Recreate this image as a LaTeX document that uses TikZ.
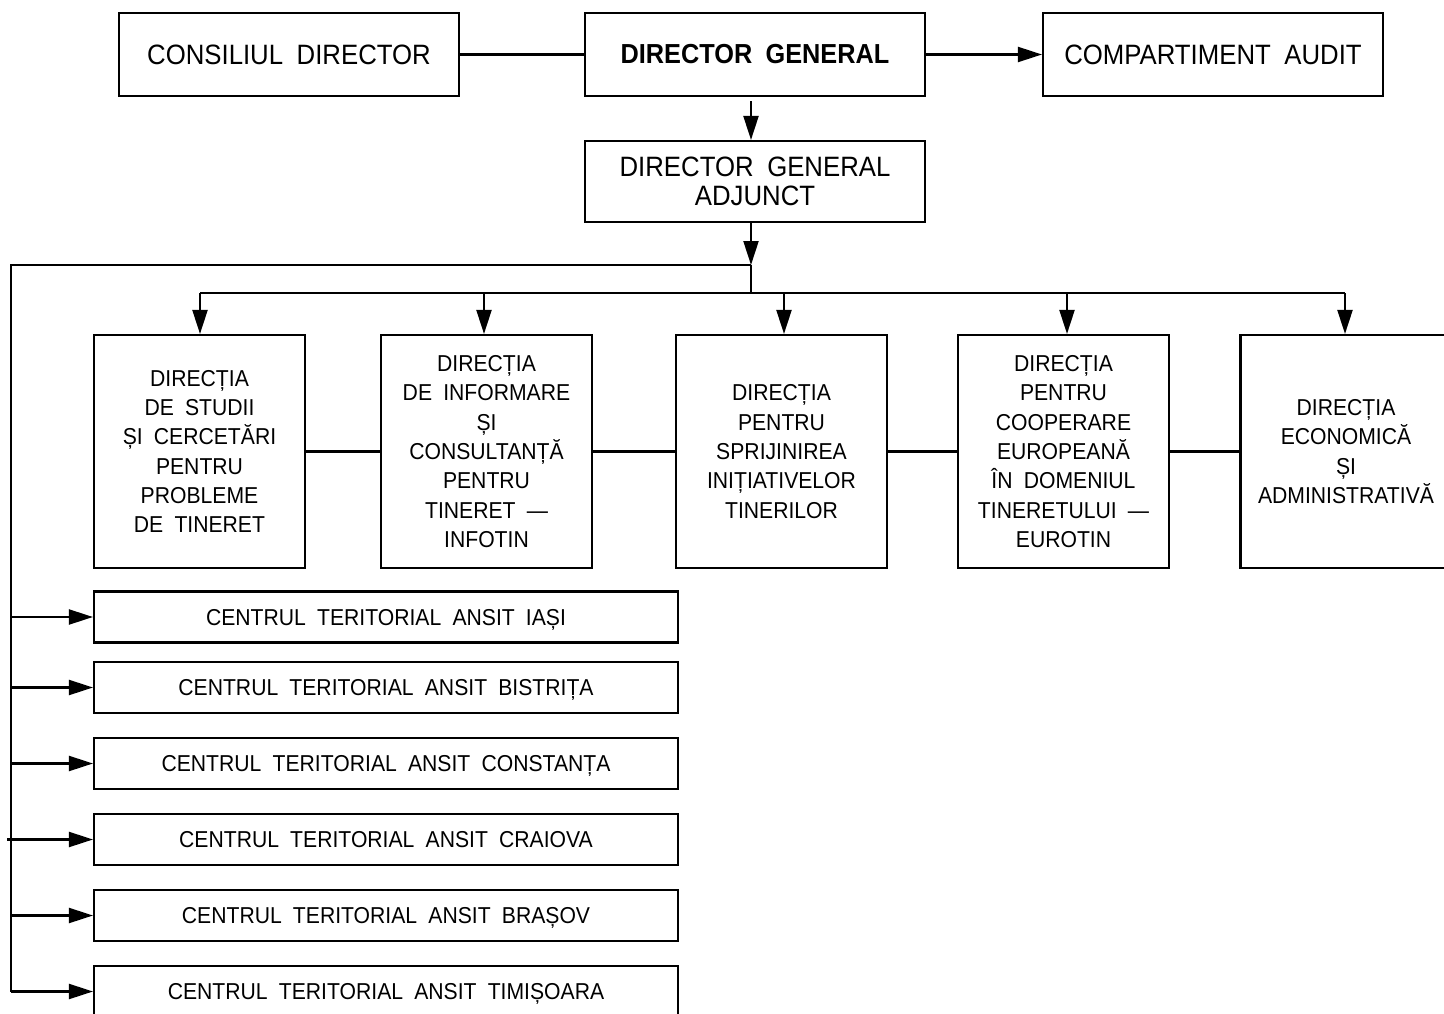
\documentclass[tikz,border=0pt]{standalone}
\usepackage{fontspec}
\setmainfont[WordSpace=1.9,FakeStretch=0.92]{Liberation Sans}
\usetikzlibrary{arrows.meta}
\begin{document}
\begin{tikzpicture}[x=1pt,y=-1pt,
  box/.style={draw,line width=2.1pt,inner sep=0pt,align=center,anchor=center},
  topbox/.style={box,minimum width=340pt,minimum height=83pt,font=\fontsize{28}{29}\selectfont},
  dirbox/.style={box,minimum width=211pt,minimum height=233pt,font=\fontsize{23}{29.3}\selectfont},
  ctbox/.style={box,minimum width=584pt,minimum height=51pt,text depth=0pt,font=\fontsize{23}{25}\selectfont},
  conn/.style={line width=2.1pt},
  arr/.style={conn,-{Triangle[length=24pt,width=15pt]}}]
\useasboundingbox (0,0) rectangle (1444,1014);
% top row
\node[topbox] (cd) at (289,54.5) {CONSILIUL DIRECTOR};
\node[topbox,font=\fontsize{27.5}{29}\selectfont\bfseries] (dg) at (755,54.5) {DIRECTOR GENERAL};
\node[topbox] (ca) at (1213,54.5) {COMPARTIMENT AUDIT};
\node[topbox,minimum height=81pt] (dga) at (755,181.5) {DIRECTOR GENERAL\\ADJUNCT};
\draw[conn] (cd.east) -- (dg.west);
\draw[arr] (dg.east) -- (ca.west);
\draw[arr,shorten <=4pt] (dg.south -| 751,0) -- (dga.north -| 751,0);
% directorates
\node[dirbox] (d1) at (199.5,451.5) {DIRECȚIA\\DE STUDII\\ȘI CERCETĂRI\\PENTRU\\PROBLEME\\DE TINERET};
\node[dirbox] (d2) at (486.5,451.5) {DIRECȚIA\\DE INFORMARE\\ȘI\\CONSULTANȚĂ\\PENTRU\\TINERET —\\INFOTIN};
\node[dirbox] (d3) at (781.5,451.5) {DIRECȚIA\\PENTRU\\SPRIJINIREA\\INIȚIATIVELOR\\TINERILOR};
\node[dirbox] (d4) at (1063.5,451.5) {DIRECȚIA\\PENTRU\\COOPERARE\\EUROPEANĂ\\ÎN DOMENIUL\\TINERETULUI —\\EUROTIN};
\node[dirbox] (d5) at (1346,451.5) {DIRECȚIA\\ECONOMICĂ\\ȘI\\ADMINISTRATIVĂ};
\draw[conn] (d1.east) -- (d2.west);
\draw[conn] (d2.east) -- (d3.west);
\draw[conn] (d3.east) -- (d4.west);
\draw[conn] (d4.east) -- (d5.west);
% bus
\coordinate (j1) at (751,265);
\coordinate (j2) at (751,293);
\coordinate (lt) at (11,265);
\coordinate (lb) at (11,992);
\draw[arr] (dga.south -| j1) -- (j1);
\draw[conn] (j1) -- (j2);
\draw[conn] (j1) -- (lt) -- (lb);
\coordinate (b1) at (200,293);
\coordinate (b2) at (484,293);
\coordinate (b3) at (784,293);
\coordinate (b4) at (1067,293);
\coordinate (b5) at (1345,293);
\draw[conn] (b1) -- (b5);
\draw[arr] (b1) -- (b1 |- d1.north);
\draw[arr] (b2) -- (b2 |- d2.north);
\draw[arr] (b3) -- (b3 |- d3.north);
\draw[arr] (b4) -- (b4 |- d4.north);
\draw[arr] (b5) -- (b5 |- d5.north);
% territorial centres
\node[ctbox] (c1) at (386,617) {CENTRUL TERITORIAL ANSIT IAȘI};
\node[ctbox] (c2) at (386,687.5) {CENTRUL TERITORIAL ANSIT BISTRIȚA};
\node[ctbox] (c3) at (386,763.5) {CENTRUL TERITORIAL ANSIT CONSTANȚA};
\node[ctbox] (c4) at (386,839.5) {CENTRUL TERITORIAL ANSIT CRAIOVA};
\node[ctbox] (c5) at (386,915.5) {CENTRUL TERITORIAL ANSIT BRAȘOV};
\node[ctbox] (c6) at (386,991.5) {CENTRUL TERITORIAL ANSIT TIMIȘOARA};
\coordinate (s4) at (7,839.5);
\draw[arr] (c1.west -| lt) -- (c1.west);
\draw[arr] (c2.west -| lt) -- (c2.west);
\draw[arr] (c3.west -| lt) -- (c3.west);
\draw[arr] (s4) -- (c4.west);
\draw[arr] (c5.west -| lt) -- (c5.west);
\draw[arr] (c6.west -| lt) -- (c6.west);
\end{tikzpicture}
\end{document}
